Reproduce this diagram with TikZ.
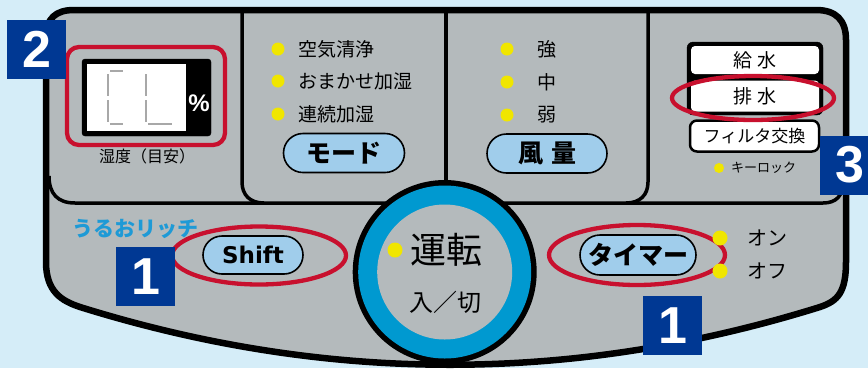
\documentclass[tikz,border=0pt]{standalone}
\usepackage{fontspec}
\usetikzlibrary{shapes.misc}
\newfontfamily\jp{Noto Sans CJK JP}
\newfontfamily\ls{Liberation Sans}
\newfontfamily\vd{DejaVu Sans}
\definecolor{bgblue}{HTML}{D5EDF8}
\definecolor{panelgray}{HTML}{B4BABC}
\definecolor{ringblue}{HTML}{0099D0}
\definecolor{pillblue}{HTML}{A0CDEB}
\definecolor{markred}{HTML}{C8102E}
\definecolor{badgeblue}{HTML}{003893}
\definecolor{lampyellow}{HTML}{F0E600}
\definecolor{seggray}{HTML}{A8A8A8}
\definecolor{logoblue}{HTML}{1E9AD6}

\begin{document}
\begin{tikzpicture}[x=1pt,y=-1pt,
		pill/.style={rounded rectangle,draw=black,line width=1.6pt,fill=pillblue,inner sep=0pt,minimum height=39pt,font=\jp\bfseries\fontsize{25}{25}\selectfont},
		lamp/.style={circle,fill=lampyellow,inner sep=0pt,minimum size=13pt},
		lbl/.style={inner sep=0pt,font=\jp\fontsize{19}{19}\selectfont},
		badge/.style={fill=badgeblue,text=white,inner sep=0pt,minimum size=59pt,font=\ls\bfseries\fontsize{52}{52}\selectfont},
		redring/.style={draw=markred,line width=4.3pt},
		whitekey/.style={fill=white,rounded corners=4pt,inner sep=0pt,minimum width=128pt,font=\jp\fontsize{19}{19}\selectfont},
		seg/.style={draw=seggray,line width=2pt}]
		\useasboundingbox (0,0) rectangle (868,368);
		\clip (0,0) rectangle (868,368);
		\fill[bgblue] (0,0) rectangle (868,368);
		\draw[fill=panelgray,line width=6.5pt] (46,262) -- (46,38) .. controls (46,18) and (56,10) .. (74,10) -- (816,10) .. controls (836,10) and (846,20) .. (846,40) -- (846,262) .. controls (846,292) and (838,301) .. (820,307) .. controls (573,384) and (327,384) .. (80,307) .. controls (62,301) and (46,292) .. (46,262) -- cycle;
		\draw[line width=3.5pt] (49,176) .. controls (49,194) and (58,203) .. (75,203) -- (823,203) .. controls (836,203) and (843,196) .. (843,182);
		\draw[line width=3.5pt] (242,12) -- (242,182) .. controls (242,195) and (250,203) .. (264,203);
		\draw[line width=3.5pt] (648,12) -- (648,182) .. controls (648,195) and (640,203) .. (626,203);
		\draw[line width=3.5pt] (446,12) -- (446,190);

		\fill[black] (444.7,272) circle (92pt);
		\fill[ringblue] (444.7,272) circle (86.5pt);
		\fill[panelgray] (444.7,272) circle (67.5pt);

		\draw[fill=black,rounded corners=3pt] (82,59) rectangle (211,136);
		\fill[white] (87,64) rectangle (186,131);
		\foreach \sx/\sy/\ex/\ey in {110/71/123/71, 108/74/108/96, 108/100/108/122, 110/124/123/124, 146/74/146/96, 146/100/146/122, 148/124/172/124}{
			\draw[seg] (\sx,\sy) -- (\ex,\ey);
		}
		\node[inner sep=0pt,text=white,font=\ls\bfseries\fontsize{24}{24}\selectfont] (pct) at (199,103) {\%};
		\node[inner sep=0pt,font=\jp\fontsize{16}{16}\selectfont] (humid) at (147,156) {湿度（目安）};
		\draw[redring,rounded corners=12pt] (67,47) rectangle (225,145);

		\foreach \y/\t [count=\i] in {49/空気清浄, 81/おまかせ加湿, 114/連続加湿}{
			\node[lamp] (modelamp\i) at (278,\y) {};
			\node[lbl,anchor=west] (modetext\i) at (298,\y) {\t};
		}
		\node[pill,minimum width=121pt] (modebtn) at (344,153) {モード};

		\foreach \y/\t [count=\i] in {49/強, 82/中, 115/弱}{
			\node[lamp] (windlamp\i) at (507,\y) {};
			\node[lbl] (windtext\i) at (547,\y) {\t};
		}
		\node[pill,minimum width=120pt] (windbtn) at (547,153.5) {風\hspace{8pt}量};

		\draw[fill=black,rounded corners=6pt] (687,42) rectangle (823,115);
		\node[whitekey,minimum height=28pt] (supply) at (755,60) {給\hspace{6pt}水};
		\node[whitekey,minimum height=31pt] (drain) at (755,96) {排\hspace{6pt}水};
		\node[draw=black,fill=white,line width=2.5pt,rounded corners=7pt,inner sep=0pt,minimum width=129pt,minimum height=31pt,font=\jp\fontsize{17}{17}\selectfont] (filter) at (754.5,136) {フィルタ交換};
		\draw[redring] (753,98) ellipse [x radius=81pt,y radius=22pt];
		\node[lamp,minimum size=10pt] (locklamp) at (719,168) {};
		\node[inner sep=0pt,anchor=west,font=\jp\fontsize{13}{13}\selectfont] (lock) at (731,168) {キーロック};

		\node[inner sep=0pt,text=logoblue,font=\jp\bfseries\fontsize{21}{21}\selectfont] (logo) at (135,229) {うるおリッチ};
		\node[pill,minimum width=100pt,minimum height=38pt,font=\vd\bfseries\fontsize{23}{23}\selectfont] (shiftbtn) at (253,255) {Shift};
		\draw[redring] (259,255.5) ellipse [x radius=87pt,y radius=29pt];

		\node[lamp,minimum size=15pt] (runlamp) at (395,250) {};
		\node[inner sep=0pt,font=\jp\fontsize{36}{36}\selectfont] (run) at (446.5,250) {運転};
		\node[inner sep=0pt,font=\jp\fontsize{24}{24}\selectfont] (onoff) at (445.5,302) {入／切};

		\node[pill,minimum width=116pt,minimum height=40pt] (timerbtn) at (638,255) {タイマー};
		\draw[redring] (637,255) ellipse [x radius=88pt,y radius=30pt];
		\node[lamp,minimum size=15pt] (onlamp) at (720,238) {};
		\node[lamp,minimum size=15pt] (offlamp) at (720,271) {};
		\node[lbl,anchor=west,font=\jp\fontsize{20}{20}\selectfont] (ontext) at (747,238) {オン};
		\node[lbl,anchor=west,font=\jp\fontsize{20}{20}\selectfont] (offtext) at (747,271) {オフ};

		\node[badge] (badgetwo) at (36.5,49) {2};
		\node[badge] (badgeoneleft) at (145.5,276.5) {1};
		\node[badge] (badgeoneright) at (672.5,325.5) {1};
		\node[badge] (badgethree) at (849.5,165) {3};
\end{tikzpicture}
\end{document}
